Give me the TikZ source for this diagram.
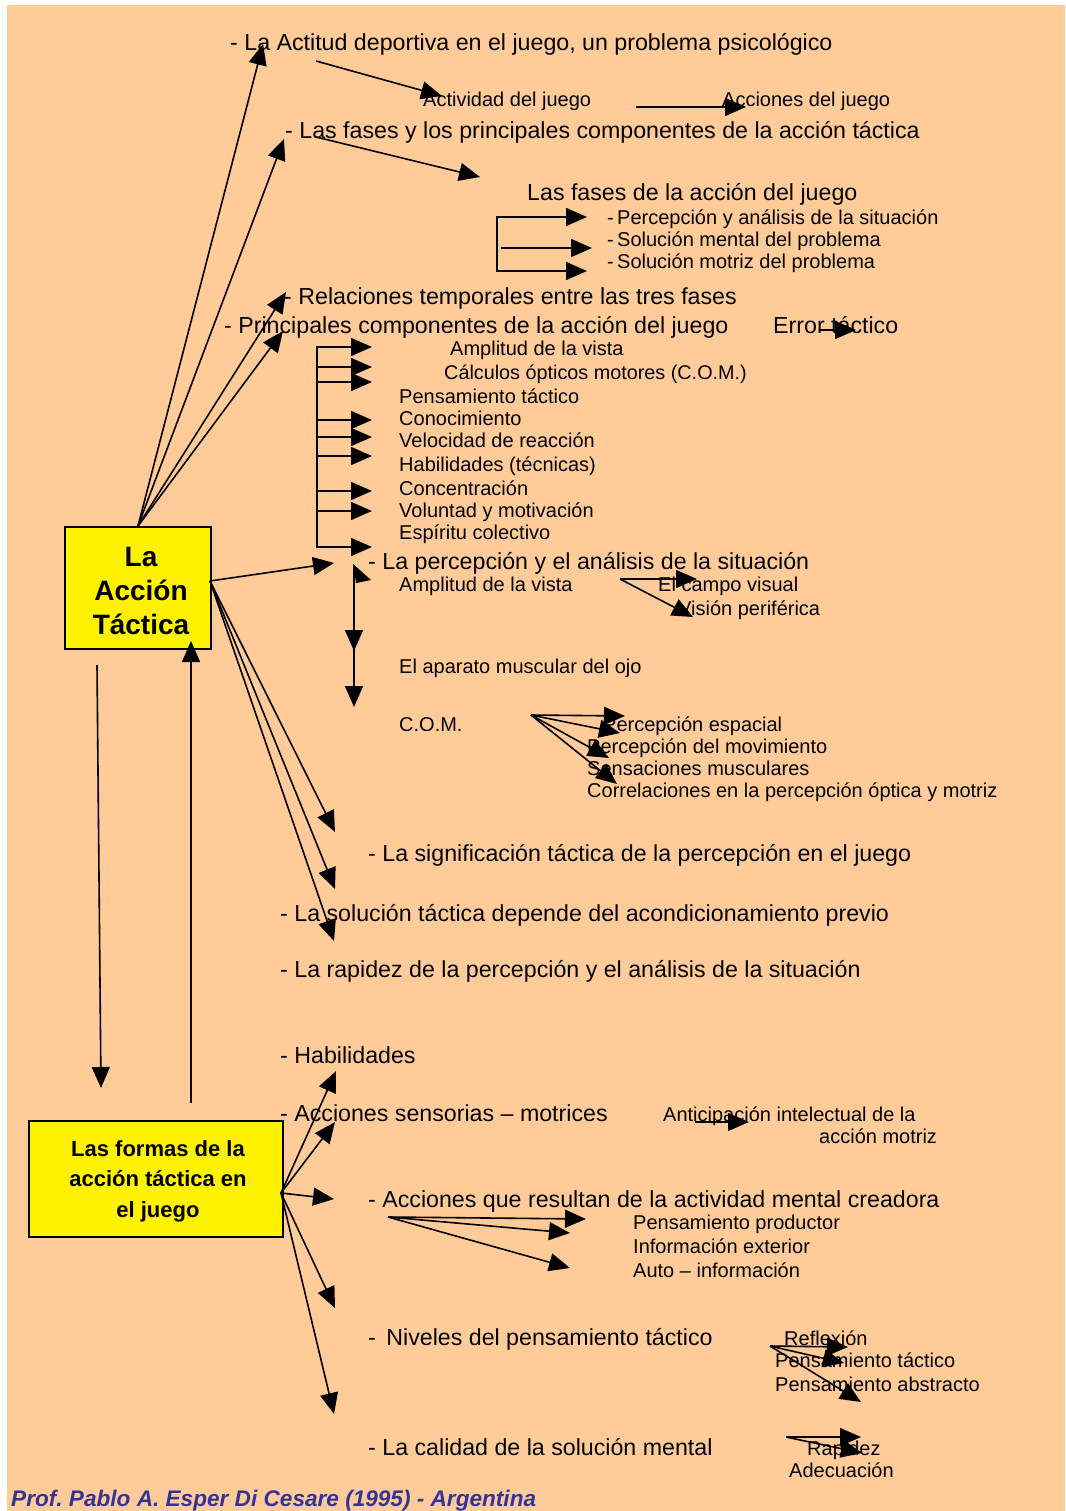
\documentclass[tikz,border=0pt]{standalone}
\usepackage{fontspec}
\setmainfont{Liberation Sans}
\usetikzlibrary{arrows.meta}
\definecolor{peach}{HTML}{FFCC99}
\definecolor{footblue}{HTML}{333399}
\frenchspacing
\begin{document}
\begin{tikzpicture}[x=1pt,y=-1pt,
  hd/.style={anchor=base west, inner sep=0pt, font=\fontsize{23.2}{28}\selectfont},
  sm/.style={anchor=base west, inner sep=0pt, font=\fontsize{20}{24}\selectfont},
  arr/.style={line width=1.6pt, -{Triangle[length=21pt,width=18pt]}},
  ln/.style={line width=1.6pt},
  bigbox/.style={draw, line width=2pt, fill=yellow, inner sep=0pt},
  boxtext/.style={align=center, inner sep=0pt}]
\useasboundingbox (0,0) rectangle (1065,1511);
\fill[white] (0,0) rectangle (1065,1511);
\fill[peach] (7,5) rectangle (1065,1511);

% boxes
\node[bigbox, minimum width=146pt, minimum height=122pt] (box1) at (138,588) {};
\node[boxtext, font=\bfseries\fontsize{28}{34}\selectfont] (box1t) at (141,591) {La\\Acción\\Táctica};
\node[bigbox, minimum width=254pt, minimum height=116pt] (box2) at (156,1179) {};
\node[boxtext, font=\bfseries\fontsize{22}{30.5}\selectfont] (box2t) at (158,1181) {Las formas de la\\acción táctica en\\el juego};

% headings
\node[hd] (t1) at (230,51) {- La Actitud deportiva en el juego, un problema psicológico};
\node[sm] (act) at (423,107) {Actividad del juego};
\node[sm] (acc) at (722,107) {Acciones del juego};
\node[hd] (t4) at (285,139) {- Las fases y los principales componentes de la acción táctica};
\node[hd] (t5) at (527,201) {Las fases de la acción del juego};
\node[sm] (f1) at (607,225) {-\,Percepción y análisis de la situación};
\node[sm] (f2) at (607,247) {-\,Solución mental del problema};
\node[sm] (f3) at (607,269) {-\,Solución motriz del problema};
\node[hd] (t7) at (284,305) {- Relaciones temporales entre las tres fases};
\node[hd] (t8) at (224,333) {- Principales componentes de la acción del juego};
\node[hd] (t9) at (773,333) {Error táctico};

\node[sm] (c1) at (450,355) {Amplitud de la vista};
\node[sm, font=\fontsize{19.8}{24}\selectfont] (c2) at (444,379) {Cálculos ópticos motores (C.O.M.)};
\node[sm] (c3) at (399,403) {Pensamiento táctico};
\node[sm] (c4) at (399,425) {Conocimiento};
\node[sm] (c5) at (399,447) {Velocidad de reacción};
\node[sm] (c6) at (399,471) {Habilidades (técnicas)};
\node[sm] (c7) at (399,495) {Concentración};
\node[sm] (c8) at (399,517) {Voluntad y motivación};
\node[sm] (c9) at (399,539) {Espíritu colectivo};

\node[hd] (t11) at (368,569) {- La percepción y el análisis de la situación};
\node[sm] (p1) at (399,591) {Amplitud de la vista};
\node[sm] (p2) at (658,591) {El campo visual};
\node[sm] (p3) at (678,615) {Visión periférica};
\node[sm] (p4) at (399,673) {El aparato muscular del ojo};
\node[sm] (p5) at (399,731) {C.O.M.};
\node[sm] (q1) at (603,731) {Percepción espacial};
\node[sm] (q2) at (587,753) {Percepción del movimiento};
\node[sm] (q3) at (587,775) {Sensaciones musculares};
\node[sm] (q4) at (587,797) {Correlaciones en la percepción óptica y motriz};

\node[hd] (t16) at (368,861) {- La significación táctica de la percepción en el juego};
\node[hd] (t17) at (280,921) {- La solución táctica depende del acondicionamiento previo};
\node[hd] (t18) at (280,977) {- La rapidez de la percepción y el análisis de la situación};

\node[hd] (t19) at (280,1063) {- Habilidades};
\node[hd] (t20) at (280,1121) {- Acciones sensorias – motrices};
\node[sm] (an1) at (663,1121) {Anticipación intelectual de la};
\node[sm] (an2) at (819,1143) {acción motriz};
\node[hd] (t22) at (368,1207) {- Acciones que resultan de la actividad mental creadora};
\node[sm] (m1) at (633,1229) {Pensamiento productor};
\node[sm] (m2) at (633,1253) {Información exterior};
\node[sm] (m3) at (633,1277) {Auto – información};
\node[hd] (t24) at (368,1345) {-\hspace{4pt} Niveles del pensamiento táctico};
\node[sm] (n1) at (784,1345) {Reflexión};
\node[sm] (n2) at (775,1367) {Pensamiento táctico};
\node[sm] (n3) at (775,1391) {Pensamiento abstracto};
\node[hd] (t26) at (368,1455) {- La calidad de la solución mental};
\node[sm] (r1) at (807,1455) {Rapidez};
\node[sm] (r2) at (789,1477) {Adecuación};

\node[anchor=base west, inner sep=0pt, text=footblue,
      font=\bfseries\itshape\fontsize{22.6}{26}\selectfont] (foot) at (11,1506)
      {Prof. Pablo A. Esper Di Cesare (1995) - Argentina};

% free-end coordinates
\coordinate (ea) at (263,44);
\coordinate (eb) at (284,139);
\coordinate (ec) at (286,292);
\coordinate (ed) at (283,331);
\coordinate (ee) at (334,563);
\coordinate (ef) at (335,832);
\coordinate (eg) at (335,889);
\coordinate (eh) at (334,941);
\coordinate (b1in) at (191,641);
\coordinate (upst) at (191,1103);
\coordinate (dnst) at (97,665);
\coordinate (dnend) at (101,1088);
\coordinate (b2o) at (281,1193);
\coordinate (b1r) at (210,581);

% fan from box 1 top
\draw[arr] (box1.north) -- (ea);
\draw[arr] (box1.north) -- (eb);
\draw[arr] (box1.north) -- (ec);
\draw[arr] (box1.north) -- (ed);
% fan from box 1 right
\draw[arr] (b1r) -- (ee);
\draw[arr] (b1r) -- (ef);
\draw[arr] (b1r) -- (eg);
\draw[arr] (b1r) -- (eh);
% vertical links between the boxes
\draw[arr] (upst) -- (b1in);
\draw[arr] (dnst) -- (dnend);
% fan from box 2
\draw[arr] (b2o) -- (336,1071);
\draw[arr] (b2o) -- (335,1122);
\draw[arr] (b2o) -- (334,1199);
\draw[arr] (b2o) -- (335,1308);
\draw[arr] (b2o) -- (334,1414);

% top links
\draw[arr] (316,61) -- (442,96);
\draw[arr] (636,107) -- (746,107);
\draw[arr] (316,137) -- (480,177);
% phases bracket
\draw[ln] (497,217) -- (497,271);
\draw[arr] (496.2,217) -- (587,217);
\draw[arr] (501,248) -- (592,248);
\draw[arr] (496.2,271) -- (587,271);
% error tactico
\draw[arr] (820,330) -- (856,330);
% component bracket
\draw[ln] (317,346) -- (317,548);
\foreach \yy in {347,367,382,420,437,456,491,511,547}
  \draw[arr] (316.2,\yy) -- (372,\yy);
% perception vertical
\fill (353,564) -- (371,580) -- (356,583) -- cycle;
\draw[ln] (354,565) -- (354,640);
\draw[arr] (354,630) -- (354,651);
\draw[arr] (354,640) -- (354,707);
% amplitud
\draw[arr] (620,579) -- (697,579);
\draw[arr] (620,579) -- (693,617);
% COM
\draw[arr] (531,715) -- (625,716);
\draw[arr] (531,715) -- (620,733);
\draw[arr] (531,715) -- (609,758);
\draw[arr] (531,715) -- (617,784);
% anticipacion
\draw[arr] (695,1122) -- (749,1122);
% actividad mental
\draw[arr] (388,1217) -- (586,1219);
\draw[arr] (388,1217) -- (570,1233);
\draw[arr] (388,1217) -- (570,1268);
% niveles
\draw[arr] (770,1346) -- (848,1347);
\draw[arr] (770,1346) -- (844,1363);
\draw[arr] (770,1346) -- (861,1402);
% calidad
\draw[arr] (786,1437) -- (861,1437);
\draw[arr] (786,1437) -- (862,1453);
\end{tikzpicture}
\end{document}
